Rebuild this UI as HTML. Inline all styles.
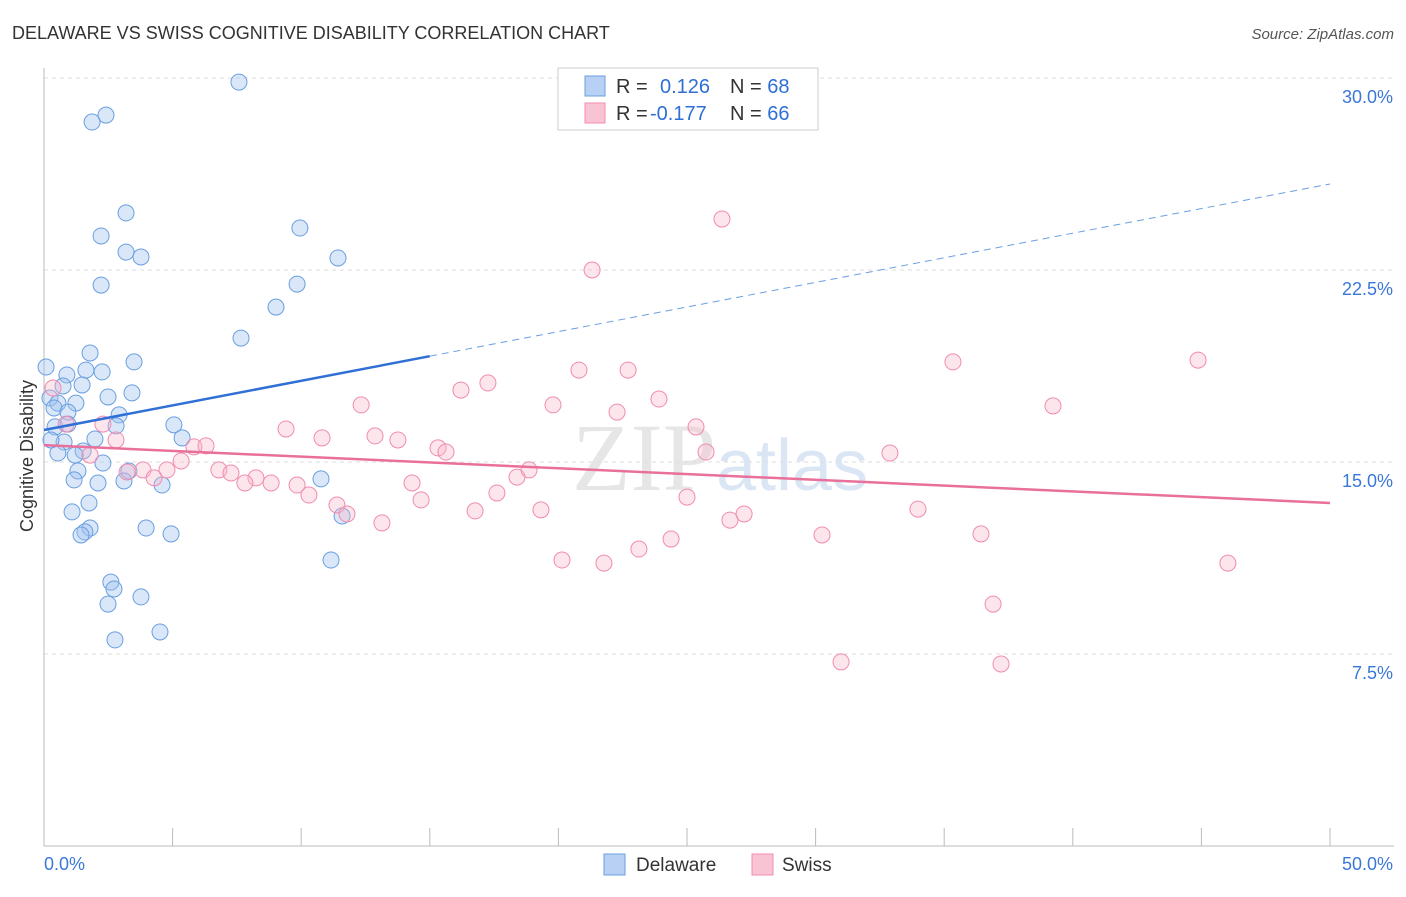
<!DOCTYPE html>
<html><head><meta charset="utf-8">
<style>
html,body{margin:0;padding:0;background:#fff;}
body{width:1406px;height:892px;overflow:hidden;font-family:"Liberation Sans",sans-serif;}
</style></head>
<body>
<svg id="chart" width="1406" height="892" viewBox="0 0 1406 892" xmlns="http://www.w3.org/2000/svg" font-family="Liberation Sans, sans-serif">
<text x="12" y="39" font-size="18" fill="#333">DELAWARE VS SWISS COGNITIVE DISABILITY CORRELATION CHART</text>
<text x="1394" y="39" font-size="15" fill="#555" font-style="italic" text-anchor="end">Source: ZipAtlas.com</text>
<text x="720" y="490" font-size="96" text-anchor="middle" fill="#e6e6e6" font-family="Liberation Serif, serif">ZIP<tspan fill="#dbe6f5" font-family="Liberation Sans, sans-serif" font-size="72">atlas</tspan></text>
<text transform="translate(33,456) rotate(-90)" font-size="18" fill="#333" text-anchor="middle">Cognitive Disability</text>
<g id="grid"></g>
<g id="axes"></g>
<g id="points"></g>
<g id="lines"></g>
<g>
<rect x="558" y="68" width="260" height="62" fill="#fff" stroke="#ccc"/>
<rect x="585" y="76" width="20" height="20" fill="#b8d0f4" stroke="#6a9fe0"/>
<rect x="585" y="103" width="20" height="20" fill="#f8c4d4" stroke="#f08cb0"/>
<text x="616" y="93" font-size="20" fill="#333">R = <tspan fill="#2f6fd6" x="660">0.126</tspan><tspan x="730">N = </tspan><tspan fill="#2f6fd6">68</tspan></text>
<text x="616" y="120" font-size="20" fill="#333">R = <tspan fill="#2f6fd6" x="650">-0.177</tspan><tspan x="730">N = </tspan><tspan fill="#2f6fd6">66</tspan></text>
</g>
<rect x="604" y="854" width="21" height="21" fill="#b8d0f4" stroke="#6a9fe0"/>
<text x="636" y="871" font-size="19" fill="#333">Delaware</text>
<rect x="752" y="854" width="21" height="21" fill="#f8c4d4" stroke="#f08cb0"/>
<text x="782" y="871" font-size="19" fill="#333">Swiss</text>
</svg>
<script>
const yTicks=[7.5,15,22.5,30];
const yTickLabels=["7.5%","15.0%","22.5%","30.0%"];
const xTickCount=10;
const xLabels=["0.0%","50.0%"];
const delX=[7.58,2.41,1.87,3.19,2.22,9.95,3.19,3.77,11.43,2.22,9.84,9.02,7.66,0.08,1.79,3.50,1.63,2.26,0.89,0.74,1.48,3.42,2.49,0.23,0.54,1.24,0.39,0.93,2.92,5.05,0.43,0.93,2.80,5.37,1.98,0.78,1.52,0.54,1.21,2.29,1.32,3.30,1.17,3.11,2.10,4.59,10.77,1.75,1.09,11.59,3.97,1.79,1.59,1.44,4.94,11.16,2.60,2.72,2.49,3.77,4.51,2.76,0.27];
const delY=[29.84,28.55,28.28,24.73,23.83,24.14,23.20,23.01,22.97,21.91,21.95,21.05,19.84,18.71,19.26,18.91,18.59,18.52,18.40,17.97,18.01,17.70,17.54,17.50,17.30,17.30,17.11,16.95,16.84,16.45,16.37,16.48,16.41,15.94,15.90,15.78,15.43,15.35,15.27,14.96,14.65,14.65,14.30,14.26,14.18,14.10,14.34,13.40,13.05,12.89,12.42,12.42,12.27,12.15,12.19,11.17,10.31,10.04,9.45,9.73,8.36,8.05,15.86];
const swX=[26.36,21.31,35.34,44.87,20.80,22.71,17.26,16.21,0.35,12.33,19.79,23.91,39.23,22.28,2.29,0.86,25.35,9.41,10.81,12.87,13.76,15.32,15.63,2.80,5.83,6.30,32.89,25.74,5.33,1.79,6.80,7.27,3.85,4.78,3.23,4.28,8.24,8.83,7.81,9.84,14.31,18.39,18.86,10.30,17.61,14.66,11.39,11.78,19.32,16.76,13.14,25.00,27.22,26.67,33.98,30.25,36.43,24.38,23.13,20.14,21.77,46.03,36.90,30.99,37.21];
const swY=[24.49,22.50,18.91,18.98,18.59,18.59,18.09,17.81,17.89,17.23,17.23,17.46,17.19,16.95,16.48,16.48,16.37,16.29,15.94,16.02,15.86,15.55,15.39,15.86,15.59,15.63,15.35,15.39,15.04,15.27,14.69,14.57,14.69,14.69,14.61,14.38,14.38,14.18,14.18,14.10,14.18,14.41,14.69,13.71,13.79,13.52,13.32,12.97,13.13,13.09,12.62,13.63,12.97,12.73,13.16,12.15,12.19,11.99,11.60,11.17,11.05,11.05,9.45,7.19,7.11];
const delTrend=[16.25,25.86];
const delSolidEnd=15;
const swTrend=[15.66,13.40];

const NS="http://www.w3.org/2000/svg";
const X0=44,X1=1330,Y0=846,PPY=25.6;
function sx(v){return X0+(v/50)*(X1-X0);}
function sy(v){return Y0-v*PPY;}
function mk(tag,attrs,parent){const e=document.createElementNS(NS,tag);for(const k in attrs)e.setAttribute(k,attrs[k]);parent.appendChild(e);return e;}
const grid=document.getElementById('grid'),axes=document.getElementById('axes'),pts=document.getElementById('points'),lines=document.getElementById('lines');
mk('line',{x1:44,y1:sy(30),x2:1394,y2:sy(30),stroke:'#ddd','stroke-dasharray':'4,4'},grid);
yTicks.forEach((t,i)=>{
 const l=mk('line',{x1:44,y1:sy(t),x2:1394,y2:sy(t),stroke:'#ddd','stroke-dasharray':'4,4'},grid);
 
 
 const tx=mk('text',{x:1393,y:sy(t)+25,'font-size':18,fill:'#3a78d8','text-anchor':'end'},axes);
 tx.textContent=yTickLabels[i];
 
 
});
const ya=mk('line',{x1:44,y1:68,x2:44,y2:846,stroke:'#bbb'},axes);


const xa=mk('line',{x1:44,y1:846,x2:1394,y2:846,stroke:'#bbb'},axes);


for(let i=0;i<=xTickCount;i++){
 const t=mk('line',{x1:sx(i*5),y1:828,x2:sx(i*5),y2:846,stroke:'#bbb'},axes);
 
 
}
const xl0=mk('text',{x:44,y:870,'font-size':18,fill:'#3a78d8'},axes);xl0.textContent=xLabels[0];


const xl1=mk('text',{x:1393,y:870,'font-size':18,fill:'#3a78d8','text-anchor':'end'},axes);xl1.textContent=xLabels[1];


delX.forEach((v,i)=>{
 const c=mk('circle',{cx:sx(v),cy:sy(delY[i]),r:8,fill:'rgba(160,195,240,0.4)',stroke:'#6a9fe0','stroke-width':1},pts);
 
 
});
swX.forEach((v,i)=>{
 const c=mk('circle',{cx:sx(v),cy:sy(swY[i]),r:8,fill:'rgba(248,180,200,0.35)',stroke:'#f08cb0','stroke-width':1},pts);
 
 
});
function ty(tr,x){return tr[0]+(tr[1]-tr[0])*x/50;}
const d1=mk('line',{x1:sx(0),y1:sy(delTrend[0]),x2:sx(delSolidEnd),y2:sy(ty(delTrend,delSolidEnd)),stroke:'#2f6fd6','stroke-width':2.5},lines);


const d2=mk('line',{x1:sx(delSolidEnd),y1:sy(ty(delTrend,delSolidEnd)),x2:sx(50),y2:sy(delTrend[1]),stroke:'#6a9fe0','stroke-width':1,'stroke-dasharray':'7,5'},lines);


const s1=mk('line',{x1:sx(0),y1:sy(swTrend[0]),x2:sx(50),y2:sy(swTrend[1]),stroke:'#e8709a','stroke-width':2.5},lines);


</script>
</body></html>
